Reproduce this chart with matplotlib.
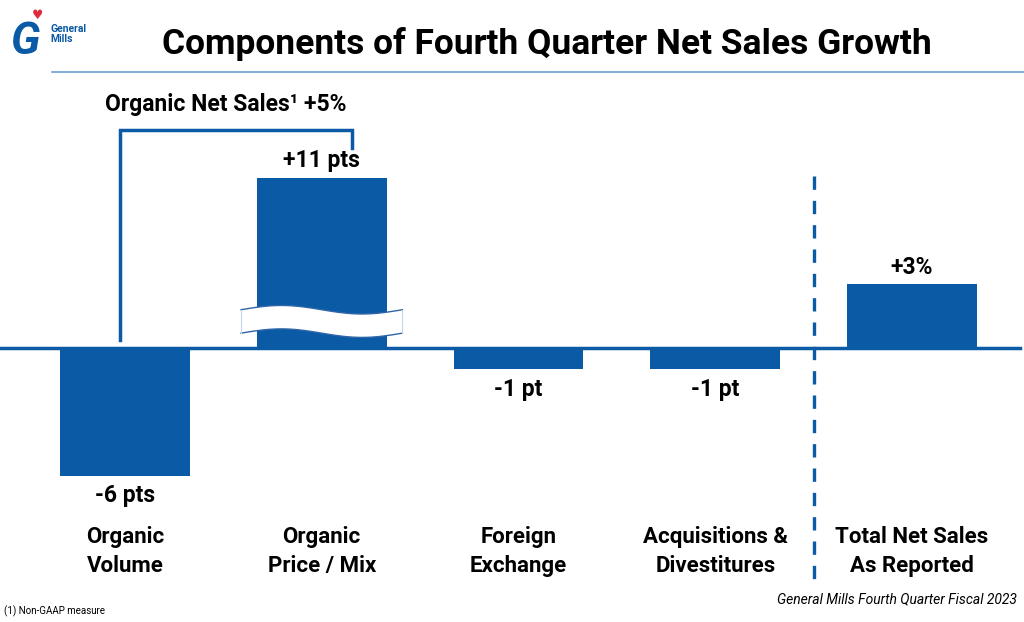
import numpy as np
import matplotlib.pyplot as plt
from matplotlib.patches import Polygon

# Data
categories = ["Organic\nVolume", "Organic\nPrice / Mix", "Foreign\nExchange",
              "Acquisitions &\nDivestitures", "Total Net Sales\nAs Reported"]
values = [-6, 11, -1, -1, 3]
value_labels = ["-6 pts", "+11 pts", "-1 pt", "-1 pt", "+3%"]
broken_cap = 8  # the +11 bar is drawn with an axis break
bracket_label = "Organic Net Sales\u00b9 +5%"

blue = "#0a5aa5"
plt.rcParams["font.family"] = ["Roboto", "DejaVu Sans"]

fig = plt.figure(figsize=(10.24, 6.22), dpi=100)
ax = fig.add_axes([0, 0, 1, 1])
ax.set_xlim(-0.635, 4.569)
ax.set_ylim(-12.86, 16.34)
ax.axis("off")

x = np.arange(len(values))
shown = [min(v, broken_cap) for v in values]
ax.bar(x, shown, width=0.66, color=blue, zorder=2)

# zero line
ax.axhline(0, xmin=0, xmax=0.996, color=blue, lw=2.5, zorder=3)

# value labels
for xi, v, lab, s in zip(x, values, value_labels, shown):
    if v >= 0:
        ax.text(xi, s + 0.25, lab, ha="center", va="bottom", fontsize=16.5, fontweight="bold")
    else:
        ax.text(xi, s - 0.4, lab, ha="center", va="top", fontsize=16.5, fontweight="bold")

# category labels
for xi, c in zip(x, categories):
    ax.text(xi, -8.35, c, ha="center", va="top", fontsize=16, fontweight="bold",
            linespacing=1.4)

# break symbol on the price / mix bar
t = np.linspace(-0.41, 0.41, 80) + 1
wave = -0.2 * np.sin((t - 1) / 0.41 * np.pi)
top = 1.8 + wave
bot = 0.7 + wave
poly = np.vstack([np.column_stack([t, top]), np.column_stack([t[::-1], bot[::-1]])])
ax.add_patch(Polygon(poly, closed=True, facecolor="white", edgecolor="none", zorder=4))
ax.plot(t, top, color="#2f66a8", lw=1, zorder=5)
ax.plot(t, bot, color="#2f66a8", lw=1, zorder=5)
ax.plot([t[0], t[0]], [bot[0], top[0]], color="#c8d6e8", lw=0.8, zorder=5)
ax.plot([t[-1], t[-1]], [bot[-1], top[-1]], color="#c8d6e8", lw=0.8, zorder=5)

# bracket for organic net sales
ax.plot([-0.025, -0.025, 1.154, 1.154], [0.4, 10.23, 10.23, 9.39], color=blue, lw=2.5,
        solid_joinstyle="miter", zorder=3)
ax.text(-0.1, 11.45, bracket_label, ha="left", va="center", fontsize=16.5, fontweight="bold")

# dashed separator
ax.plot([3.5, 3.5], [8.1, -10.9], color=blue, lw=2.4, ls=(0, (4, 3.3)), zorder=1)

# title and header rule
fig.text(0.534, 0.93, "Components of Fourth Quarter Net Sales Growth", ha="center",
         va="center", fontsize=25.5, fontweight="bold")
fig.add_artist(plt.Line2D([0.051, 1.0], [0.884, 0.884], color="#6f9fd6", lw=1.2))

# logo
fig.text(0.010, 0.933, "G", fontsize=32, fontweight="bold", color=blue, style="italic",
         ha="left", va="center")
fig.text(0.049, 0.945, "General\nMills", fontsize=7.5, fontweight="bold", color=blue,
         ha="left", va="center", linespacing=1.0)
fig.text(0.037, 0.975, "\u2665", fontsize=9, color="#e02b3a", ha="center", va="center",
         family="DejaVu Sans")

# footnotes
fig.text(0.004, 0.018, "(1) Non-GAAP measure", fontsize=7, ha="left", va="center")
fig.text(0.993, 0.036, "General Mills Fourth Quarter Fiscal 2023", fontsize=10,
         style="italic", ha="right", va="center")

fig.savefig("out.png", dpi=100)
